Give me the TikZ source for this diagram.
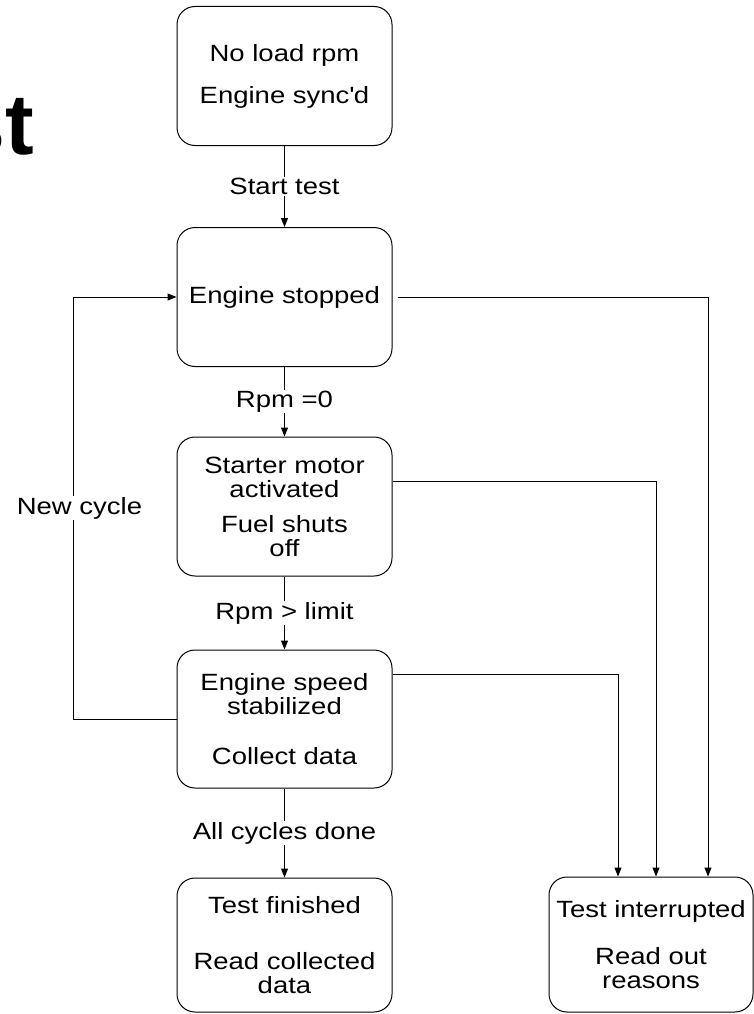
\documentclass[tikz,border=0pt]{standalone}
\usepackage{fontspec}
\setmainfont{Liberation Sans}[FakeStretch=1.17]
\newfontfamily\titlefont{Liberation Sans}
\usetikzlibrary{arrows.meta}

\tikzset{
  state/.style={draw, rounded corners=18pt, line width=1pt, align=center,
    minimum width=215pt, minimum height=139pt, inner sep=2pt},
  arr/.style={line width=1pt, -{Triangle[length=9pt,width=7pt]}},
  lbl/.style={fill=white, inner sep=1pt}
}

\begin{document}
\begin{tikzpicture}[x=1pt, y=-1pt, every node/.style={font=\fontsize{23.5}{24}\selectfont}]
    \useasboundingbox (0,0) rectangle (754,1014);
    \fill[white] (0,0) rectangle (754,1014);
    % clipped title
    \node[anchor=base east, inner sep=0pt, font=\titlefont\bfseries\fontsize{86}{86}\selectfont]
        (title) at (34,154) {st};
    % states, top to bottom
    \node[state] (sync) at (284.5,76) {No load rpm\\[18pt]Engine sync\textquotesingle d};
    \node[state] (stopped) at (284.5,297) {Engine stopped};
    \node[state] (starter) at (284.5,506.5) {Starter motor\\activated\\[11pt]Fuel shuts\\off};
    \node[state, minimum height=138pt] (stable) at (284.5,719) {Engine speed\\stabilized\\[26pt]Collect data};
    \node[state, minimum height=134pt] (finished) at (284.5,945) {Test finished\\[32pt]Read collected\\data};
    \node[state, minimum width=204pt, minimum height=135pt] (interrupted) at (651,944.5)
        {Test interrupted\\[23pt]Read out\\reasons};
    % main sequence
    \draw[arr] (sync) -- node[lbl] {Start test} (stopped);
    \draw[arr] (stopped) -- node[lbl] {Rpm =0} (starter);
    \draw[arr] (starter) -- node[lbl] {Rpm > limit} (stable);
    \draw[arr] (stable) -- node[lbl] {All cycles done} (finished);
    % loop back
    \draw[arr] (stable.west) -- ++(-103,0) |- node[lbl, pos=0.25, xshift=6pt] {New cycle} (stopped.west);
    % interruptions
    \draw[arr, shorten <=5pt] (stopped.east) -| ([xshift=57pt]interrupted.north);
    \draw[arr] ([yshift=25pt]starter.east) -| ([xshift=5pt]interrupted.north);
    \draw[arr] ([yshift=45pt]stable.east) -| ([xshift=-33pt]interrupted.north);
\end{tikzpicture}
\end{document}
